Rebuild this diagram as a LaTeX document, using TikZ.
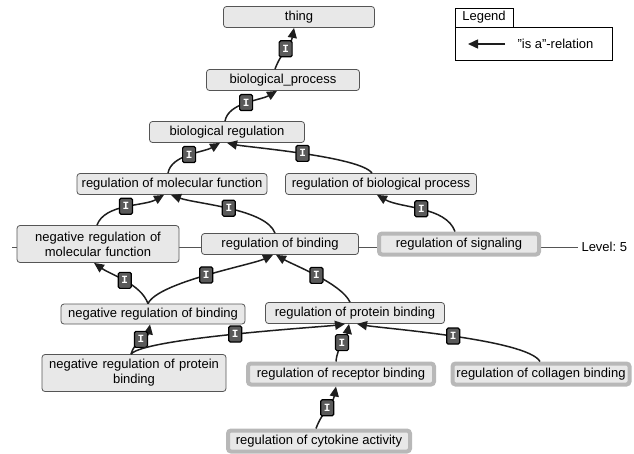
\documentclass[tikz,border=0pt]{standalone}
\usepackage{fontspec}
\setmainfont{Liberation Sans}
\newfontfamily\badgefont{Liberation Mono}
\usetikzlibrary{arrows.meta}
\frenchspacing

\definecolor{termfill}{HTML}{E8E8E8}
\definecolor{termline}{HTML}{555555}
\definecolor{leafline}{HTML}{B8B8B8}
\definecolor{badgefill}{HTML}{5A5A5A}
\definecolor{edgecol}{HTML}{1E1E1E}

\begin{document}
\begin{tikzpicture}[x=1pt,y=1pt,
    every node/.style={font=\fontsize{13}{15}\selectfont},
    term/.style={draw=termline, fill=termfill, rounded corners=3pt, line width=0.8pt,
                 minimum height=21pt, inner sep=1pt, align=center},
    leaf/.style={term, draw=leafline, line width=4pt},
    badge/.style={draw=black, fill=badgefill, line width=1.2pt, rounded corners=1.5pt,
                  text=white, font=\badgefont\bfseries\fontsize{11}{11}\selectfont,
                  minimum width=13pt, minimum height=16pt, inner sep=0pt},
    isa/.style={draw=edgecol, line width=1.5pt, -{Triangle[length=10pt,width=9pt]}}]
            \useasboundingbox (0,0) rectangle (634,-453);
            % level line behind the terms
            \coordinate (LV) at (12,-247);
            \node[anchor=west] (LEVEL) at (578,-247) {Level: 5};
            \draw[termline, line width=0.9pt] (LV) -- (LEVEL.west);
            % terms
            \node[term, minimum width=151pt] (TH) at (299,-17) {thing};
            \node[term, minimum width=153pt] (BP) at (283,-80) {biological\_process};
            \node[term, minimum width=155pt] (BR) at (227,-132) {biological regulation};
            \node[term, minimum width=190pt] (RMF) at (172,-184) {regulation of molecular function};
            \node[term, minimum width=191pt] (RBP) at (381,-184) {regulation of biological process};
            \node[term, text width=160pt, minimum height=37pt] (NRMF) at (98,-244) {negative regulation of\\molecular function};
            \node[term, minimum width=157pt] (RB) at (280,-244) {regulation of binding};
            \node[leaf, minimum width=160pt] (RS) at (459,-244) {regulation of signaling};
            \node[term, minimum width=184pt, minimum height=20pt] (NRB) at (153,-314) {negative regulation of binding};
            \node[term, minimum width=179pt] (RPB) at (355,-313) {regulation of protein binding};
            \node[term, text width=182pt, minimum height=37pt] (NRPB) at (134,-373) {negative regulation of protein\\binding};
            \node[leaf, minimum width=186pt] (RRB) at (341,-374) {regulation of receptor binding};
            \node[leaf, minimum width=177pt] (RCB) at (541,-374) {regulation of collagen binding};
            \node[leaf, minimum width=182pt] (RCA) at (319,-441) {regulation of cytokine activity};
            % is-a relations
            \draw[isa] ([xshift=-8pt]BP.north) to[out=70,in=-100] node[badge] {I} ([xshift=-5pt]TH.south);
            \draw[isa] ([xshift=-2pt]BR.north) to[out=80,in=-150,looseness=0.8] node[badge] {I} ([xshift=-6pt]BP.south);
            \draw[isa] ([xshift=-4pt]RMF.north) to[out=80,in=-150,looseness=0.8] node[badge] {I} ([xshift=-7pt]BR.south);
            \draw[isa] ([xshift=-9pt]RBP.north) to[out=125,in=-12,looseness=0.35] node[badge] {I} (BR.south);
            \draw[isa] ([xshift=-1pt]NRMF.north) to[out=70,in=-150,looseness=0.8] node[badge] {I} ([xshift=-8pt]RMF.south);
            \draw[isa] ([xshift=-5pt]RB.north) to[out=110,in=-20,looseness=0.6] node[badge] {I} ([xshift=-1pt]RMF.south);
            \draw[isa] ([xshift=-4pt]RS.north) to[out=110,in=-30,looseness=0.8] node[badge] {I} ([xshift=-4pt]RBP.south);
            \draw[isa] ([xshift=-5pt]NRB.north) to[out=110,in=-35,looseness=0.8] node[badge] {I} ([xshift=-4pt]NRMF.south);
            \draw[isa] ([xshift=-5pt]NRB.north) to[out=65,in=-155,looseness=0.45] node[badge] {I} ([xshift=-7pt]RB.south);
            \draw[isa] ([xshift=-5pt]RPB.north) to[out=115,in=-30,looseness=0.6] node[badge] {I} ([xshift=-4pt]RB.south);
            \draw[isa] ([xshift=-3pt]NRPB.north) to[out=75,in=-100] node[badge] {I} ([xshift=-3pt]NRB.south);
            \draw[isa] ([xshift=-3pt]NRPB.north) to[out=50,in=-172,looseness=0.25] node[badge] {I} ([xshift=-10pt]RPB.south);
            \draw[isa] ([xshift=-5pt]RRB.north) to[out=85,in=-100] node[badge] {I} ([xshift=-6pt]RPB.south);
            \draw[isa] ([xshift=-1pt]RCB.north) to[out=120,in=-10,looseness=0.35] node[badge] {I} ([xshift=2pt]RPB.south);
            \draw[isa] ([xshift=-3pt]RCA.north) to[out=70,in=-100] node[badge] {I} ([xshift=-5pt]RRB.south);
            % legend
            \node[draw=black, line width=0.8pt, minimum width=58pt, minimum height=19pt, inner sep=0pt] (LT) at (484,-17.5) {Legend};
            \node[draw=black, line width=0.8pt, minimum width=157pt, minimum height=33pt] (LB) at (533.5,-43.5) {};
            \node[anchor=west] (LR) at (514,-44) {"is a"-relation};
            \coordinate (LA) at (468,-44);
            \draw[isa] ([xshift=-9pt]LR.west) -- (LA);
        \end{tikzpicture}
\end{document}
